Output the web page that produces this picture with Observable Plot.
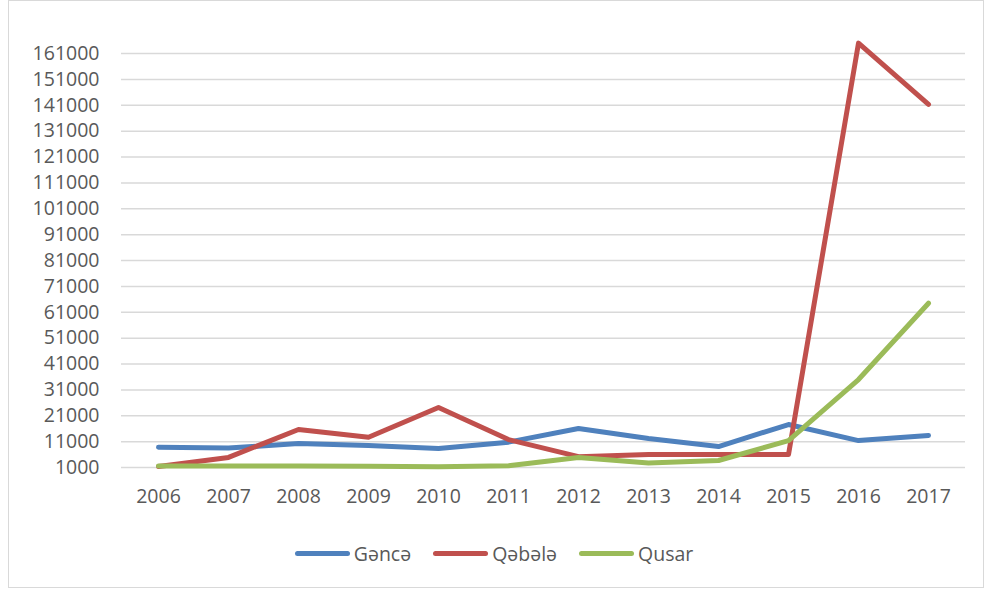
<!DOCTYPE html>
<html>
<head>
<meta charset="utf-8">
<script src="https://cdn.jsdelivr.net/npm/d3@7"></script>
<script src="https://cdn.jsdelivr.net/npm/@observablehq/plot@0.6"></script>
<style>
  html, body { margin: 0; padding: 0; background: #fff; }
  body { width: 988px; height: 592px; position: relative; overflow: hidden; font-family: "Open Sans", sans-serif; }
  #frame { position: absolute; left: 8px; top: 0px; width: 976px; height: 588px; border: 1px solid #d9d9d9; box-sizing: border-box; }
  #chart { position: absolute; left: 0; top: 0; }
  #legend { position: absolute; left: 0; top: 540px; width: 988px; display: flex; justify-content: center; align-items: center; font-size: 19.5px; color: #595959; }
  .item { display: flex; align-items: center; margin: 0 11px; }
  .sw { display: inline-block; width: 55px; height: 5px; border-radius: 3px; margin-right: 4px; }
</style>
</head>
<body>
<div id="frame"></div>
<div id="chart"></div>
<div id="legend"></div>
<script>
const years = ["2006","2007","2008","2009","2010","2011","2012","2013","2014","2015","2016","2017"];
const seriesNames = ["Gəncə", "Qəbələ", "Qusar"];
const gence  = [8850, 8500, 10300, 9500, 8300, 10800, 16100, 12200, 9100, 17600, 11400, 13400];
const qebele = [1400, 4900, 15700, 12700, 24200, 11800, 5200, 6000, 6000, 6000, 165000, 141300];
const qusar  = [1600, 1600, 1600, 1500, 1300, 1700, 4900, 2700, 3700, 11400, 35000, 64500];
const colors = ["#4F81BD", "#C0504D", "#9BBB59"];
const yTicks = [1000, 11000, 21000, 31000, 41000, 51000, 61000, 71000, 81000, 91000, 101000, 111000, 121000, 131000, 141000, 151000, 161000];

const allSeries = [gence, qebele, qusar];
const rows = [];
allSeries.forEach((vals, si) => {
  vals.forEach((v, i) => rows.push({ year: years[i], value: v, series: seriesNames[si] }));
});

const chart = Plot.plot({
  width: 988,
  height: 530,
  marginTop: 53,
  marginBottom: 63,
  marginLeft: 121,
  marginRight: 23,
  style: { fontFamily: "Open Sans, sans-serif", fontSize: "19.5px", color: "#595959", background: "transparent" },
  x: { type: "point", domain: years, padding: 0.5 },
  y: { domain: [1000, 161000] },
  color: { domain: seriesNames, range: colors },
  marks: [
    Plot.ruleY(yTicks, { stroke: "#d9d9d9", strokeWidth: 1.5 }),
    Plot.axisY({ ticks: yTicks, tickSize: 0, tickPadding: 22, tickFormat: d => String(d), label: null, fill: "#595959" }),
    Plot.axisX({ tickSize: 0, tickPadding: 22, label: null, fill: "#595959" }),
    Plot.line(rows, { x: "year", y: "value", z: "series", stroke: "series", strokeWidth: 5, strokeLinejoin: "round", strokeLinecap: "round" })
  ]
});
document.getElementById("chart").appendChild(chart);

const legend = document.getElementById("legend");
seriesNames.forEach((name, i) => {
  const item = document.createElement("div");
  item.className = "item";
  const sw = document.createElement("span");
  sw.className = "sw";
  sw.style.background = colors[i];
  const t = document.createElement("span");
  t.textContent = name;
  item.appendChild(sw);
  item.appendChild(t);
  legend.appendChild(item);
});
</script>
</body>
</html>
